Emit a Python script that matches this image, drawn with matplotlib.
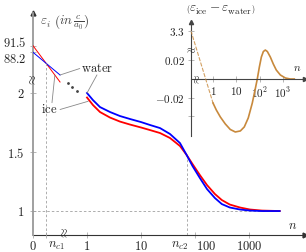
import numpy as np
import matplotlib.pyplot as plt
from matplotlib.ticker import NullLocator

plt.rcParams['mathtext.fontset'] = 'cm'
plt.rcParams['font.family'] = 'DejaVu Serif'

# ---------------- data ----------------
# main curves (n >= 1)
n_main = [1, 1.29, 1.74, 2.67, 4.08, 6.24, 10, 14.7, 22.5, 34.4, 52.7, 70, 90,
          123, 167, 234, 314, 441, 680, 1040, 1740, 3700]
eps_water = [2.0, 1.94, 1.881, 1.839, 1.805, 1.78, 1.754, 1.729, 1.703, 1.653, 1.576,
             1.475, 1.381, 1.28, 1.186, 1.11, 1.059, 1.03, 1.013, 1.004, 1.0, 1.0]
eps_ice = [1.962, 1.898, 1.839, 1.792, 1.758, 1.733, 1.708, 1.686, 1.661, 1.619, 1.551,
           1.475, 1.398, 1.305, 1.22, 1.144, 1.093, 1.055, 1.03, 1.013, 1.004, 1.0]
n_c2 = 70

# schematic start segments (n between 0 and n_c1)
n_left = [0, 0.52]
eps_ice_left = [91.5, 73.35]
eps_water_left = [88.2, 76.85]
n_c1 = 0.25
n_dots = [0.667, 0.756, 0.846]
eps_dots = [73.0, 71.0, 69.0]

# inset: difference ice - water
n_diff = [1, 1.39, 2.06, 3.37, 5.5, 9.06, 14.9, 22, 32.6, 48.6, 65, 79.6, 97.6, 119,
          145, 176, 215, 289, 388, 520, 777, 1270, 2080, 3080]
diff = [-0.0257, -0.0332, -0.0406, -0.0481, -0.054, -0.0567, -0.0556, -0.0513, -0.0417,
        -0.0257, -0.0107, 0.0, 0.0128, 0.0235, 0.0294, 0.031, 0.0294, 0.0235, 0.016,
        0.0096, 0.0043, 0.0011, 0.0, 0.0]
diff_start = 3.3

RED = '#ff0000'
BLUE = '#0000ff'
ORANGE = '#c8893c'
GRID = '#a0a0a0'
TXT = '#222222'

W, H = 306, 252
fig = plt.figure(figsize=(W / 100, H / 100), dpi=100)


def px_box(l, t, r, b):
    return [l / W, 1 - b / H, (r - l) / W, (b - t) / H]


# ---------------- main axes ----------------
main_box = px_box(33, 13, 305, 235)
ax = fig.add_axes(main_box)
ax.patch.set_visible(False)
ax.set_xscale('log')
ax.set_xlim(0.1, 10 ** 4.037)
ax.set_ylim(0.797, 2.678)
ax.xaxis.set_minor_locator(NullLocator())
for s in ['top', 'right']:
    ax.spines[s].set_visible(False)
ax.spines['left'].set_color('#999999')
ax.spines['left'].set_linewidth(1.3)
ax.spines['bottom'].set_color('#333333')
ax.spines['bottom'].set_linewidth(0.8)
ax.plot(1, 0, marker='>', ms=3.5, color='#333333', transform=ax.transAxes, clip_on=False)
ax.plot(0, 1, marker='^', ms=3.5, color='#333333', transform=ax.transAxes, clip_on=False)

ax.set_yticks([1, 1.5, 2], ['$1$', '$1.5$', '$2$'])
ax.set_xticks([1, 10, 100, 1000], ['$1$', '$10$', '', '$1000$'])
ax.tick_params(direction='inout', length=4, width=0.6, color='#aaaaaa',
               labelsize=9, labelcolor=TXT)
ax.tick_params(axis='y', pad=4)
ax.tick_params(axis='x', pad=1.8)

ax.plot(n_main, eps_ice, color=RED, lw=1.3, zorder=3)
ax.plot(n_main, eps_water, color=BLUE, lw=1.3, zorder=4)

dash = dict(color=GRID, lw=0.6, ls=(0, (3, 2.5)))
ax.plot([ax.get_xlim()[0], n_main[-1]], [1, 1], **dash)
cross = np.interp(np.log10(n_c2), np.log10(n_main), eps_water)
ax.plot([n_c2, n_c2], [ax.get_ylim()[0], cross], **dash)

ax.annotate('$100$', xy=(100, 0), xycoords=ax.get_xaxis_transform(),
            xytext=(11, -11), textcoords='offset pixels', ha='center', va='center',
            fontsize=9, color=TXT)
ax.annotate('$n_{c2}$', xy=(n_c2, 0), xycoords=ax.get_xaxis_transform(),
            xytext=(-7, -11), textcoords='offset pixels', ha='center', va='center',
            fontsize=9, color=TXT)
ax.text(0, 2.11, r'$\approx$', transform=ax.get_yaxis_transform(), rotation=90,
        ha='center', va='center', fontsize=9, color=TXT)
ax.text(0.956, 0.045, '$n$', transform=ax.transAxes, ha='center', va='center',
        fontsize=9, color=TXT)
ax.text(0.024, 0.955, r'$\varepsilon_i\ \left(in\,\frac{c}{a_0}\right)$',
        transform=ax.transAxes, ha='left', va='center', fontsize=9.5, color='#444444')

# ---------------- schematic left part ----------------
axl = fig.add_axes(main_box)
axl.patch.set_visible(False)
axl.set_xlim(0, 272 / 52)
axl.set_ylim(-3.15, 107.85)
for s in axl.spines.values():
    s.set_visible(False)
axl.set_xticks([0, n_c1], ['$0$', ''])
axl.set_yticks([88.2, 91.5], ['', ''])
axl.tick_params(direction='inout', length=4, width=0.6, color='#aaaaaa',
                labelsize=9, labelcolor=TXT, pad=1.8)

axl.plot(n_left, eps_ice_left, color=RED, lw=0.7)
axl.plot(n_left, eps_water_left, color=BLUE, lw=0.7)
axl.plot(n_dots, eps_dots, 'o', ms=1.0, color='#444444')

s_ice = (eps_ice_left[1] - eps_ice_left[0]) / n_left[1]
s_wat = (eps_water_left[1] - eps_water_left[0]) / n_left[1]
n_x = (eps_water_left[0] - eps_ice_left[0]) / (s_ice - s_wat)
y_x = eps_ice_left[0] + s_ice * n_x
axl.plot([n_x, n_x], [axl.get_ylim()[0], y_x], **dash)

ytr = axl.get_yaxis_transform()
axl.annotate('$91.5$', xy=(0, 91.5), xycoords=ytr, xytext=(-6, 3),
             textcoords='offset pixels', ha='right', va='center', fontsize=9, color=TXT)
axl.annotate('$88.2$', xy=(0, 88.2), xycoords=ytr, xytext=(-6, -7),
             textcoords='offset pixels', ha='right', va='center', fontsize=9, color=TXT)
axl.annotate('$n_{c1}$', xy=(n_c1, 0), xycoords=axl.get_xaxis_transform(),
             xytext=(10, -11), textcoords='offset pixels', ha='center', va='center',
             fontsize=9, color=TXT)
axl.text(0.615, 0.005, r'$\approx$', transform=axl.get_xaxis_transform(), rotation=90,
         ha='center', va='center', fontsize=9, color=TXT)

axl.text(0.92, 80.3, r'$\mathrm{water}$', ha='left', va='center', fontsize=9, color=TXT)
axl.text(0.31, 59.5, r'$\mathrm{ice}$', ha='center', va='center', fontsize=9, color=TXT)
lead = dict(arrowstyle='-', color='#888888', lw=0.6, shrinkA=0, shrinkB=0)
axl.annotate('', xy=(0.52, 76.85), xytext=(0.90, 80.1), arrowprops=lead)
axl.annotate('', xy=(1.0, 2.0), xycoords=ax.transData, xytext=(1.23, 76.9),
             textcoords=axl.transData, arrowprops=lead)
axl.annotate('', xy=(0.42, 76.8), xytext=(0.365, 63.0), arrowprops=lead)
axl.annotate('', xy=(1.05, 1.93), xycoords=ax.transData, xytext=(0.52, 59.6),
             textcoords=axl.transData, arrowprops=lead)

# ---------------- inset ----------------
in_box = px_box(191, 22, 305, 136)
ai = fig.add_axes(in_box)
ai.patch.set_visible(False)
ai.set_xscale('log')
ai.set_xlim(10 ** (-22 / 23.3), 10 ** (92 / 23.3))
ai.set_ylim(-0.061, 0.061)
ai.xaxis.set_minor_locator(NullLocator())
for s in ['top', 'right']:
    ai.spines[s].set_visible(False)
ai.spines['bottom'].set_position(('data', 0))
for s in ['left', 'bottom']:
    ai.spines[s].set_color('#444444')
    ai.spines[s].set_linewidth(0.8)
ai.plot(1, 0, marker='>', ms=3, color='#444444', transform=ai.get_yaxis_transform(),
        clip_on=False)
ai.plot(0, 1, marker='^', ms=3, color='#444444', transform=ai.transAxes, clip_on=False)
ai.set_yticks([-0.04, -0.02, 0.02], ['', '$-0.02$', '$0.02$'])
ai.set_xticks([1, 10, 100, 1000], ['$1$', '$10$', '$10^2$', '$10^3$'])
ai.tick_params(direction='inout', length=4, width=0.6, color='#aaaaaa',
               labelsize=8, labelcolor=TXT, pad=2.5)

ai.plot(n_diff, diff, color=ORANGE, lw=1.2)

ai2 = fig.add_axes(in_box)
ai2.patch.set_visible(False)
ai2.set_xlim(0, 1)
ai2.set_ylim(-3.92, 3.92)
for s in ai2.spines.values():
    s.set_visible(False)
ai2.set_xticks([])
ai2.set_yticks([diff_start], ['$3.3$'])
ai2.tick_params(direction='inout', length=4, width=0.6, color='#aaaaaa',
                labelsize=8, labelcolor=TXT, pad=2.5)
ai.annotate('', xy=(n_diff[0], diff[0]), xytext=(0, diff_start), textcoords=ai2.transData,
            arrowprops=dict(arrowstyle='-', color=ORANGE, lw=0.8, ls=(0, (3, 2)),
                            shrinkA=0, shrinkB=0, alpha=0.8))
ai2.text(0, 1.99, r'$\approx$', transform=ai2.get_yaxis_transform(), ha='center',
         va='center', fontsize=8, color=TXT)
ai.text(0.2, 0, r'$\approx$', transform=ai.transData, rotation=90, ha='center',
        va='center', fontsize=8, color=TXT)
ai.text(0.93, 0.596, '$n$', transform=ai.transAxes, ha='center', va='center',
        fontsize=8, color=TXT)
ai.text(0.26, 1.11, r'$\left(\varepsilon_{\mathrm{ice}} - \varepsilon_{\mathrm{water}}\right)$',
        transform=ai.transAxes, ha='center', va='center', fontsize=9.5, color=TXT)

fig.savefig('out.png', dpi=100)
